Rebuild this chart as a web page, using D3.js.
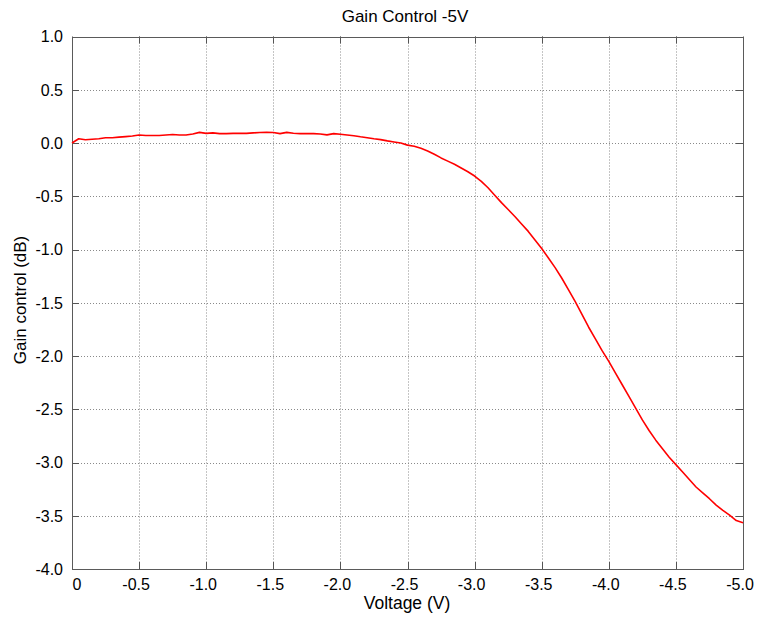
<!DOCTYPE html>
<html>
<head>
<meta charset="utf-8">
<script src="https://cdn.jsdelivr.net/npm/d3@7"></script>
<style>
  html, body { margin: 0; padding: 0; background: #fff; }
  text { font-family: "Liberation Sans", Arial, Helvetica, sans-serif; fill: #000; }
</style>
</head>
<body>
<svg id="chart" width="759" height="621"></svg>
<script>
// Measured sweep: control voltage (V) and resulting gain change (dB)
const voltage = [
  0.00, -0.05, -0.10, -0.15, -0.20, -0.25, -0.30, -0.35, -0.40, -0.45,
  -0.50, -0.55, -0.60, -0.65, -0.70, -0.75, -0.80, -0.85, -0.90, -0.95,
  -1.00, -1.05, -1.10, -1.15, -1.20, -1.25, -1.30, -1.35, -1.40, -1.45,
  -1.50, -1.55, -1.60, -1.65, -1.70, -1.75, -1.80, -1.85, -1.90, -1.95,
  -2.00, -2.05, -2.10, -2.15, -2.20, -2.25, -2.30, -2.35, -2.40, -2.45,
  -2.50, -2.55, -2.60, -2.65, -2.70, -2.75, -2.80, -2.85, -2.90, -2.95,
  -3.00, -3.05, -3.10, -3.15, -3.20, -3.25, -3.30, -3.35, -3.40, -3.45,
  -3.50, -3.55, -3.60, -3.65, -3.70, -3.75, -3.80, -3.85, -3.90, -3.95,
  -4.00, -4.05, -4.10, -4.15, -4.20, -4.25, -4.30, -4.35, -4.40, -4.45,
  -4.50, -4.55, -4.60, -4.65, -4.70, -4.75, -4.80, -4.85, -4.90, -4.95,
  -5.00
];
const gainDb = [
  0.000, 0.040, 0.030, 0.035, 0.040, 0.050, 0.050, 0.055, 0.060, 0.065,
  0.075, 0.070, 0.070, 0.070, 0.075, 0.080, 0.075, 0.075, 0.085, 0.100,
  0.090, 0.095, 0.088, 0.088, 0.090, 0.092, 0.090, 0.095, 0.098, 0.100,
  0.098, 0.088, 0.100, 0.092, 0.088, 0.088, 0.088, 0.085, 0.076, 0.088,
  0.082, 0.075, 0.068, 0.058, 0.050, 0.040, 0.032, 0.020, 0.010, 0.000,
  -0.020, -0.030, -0.050, -0.075, -0.105, -0.140, -0.170, -0.200, -0.235, -0.270,
  -0.310, -0.360, -0.420, -0.490, -0.560, -0.625, -0.690, -0.760, -0.830, -0.910,
  -0.990, -1.080, -1.170, -1.270, -1.380, -1.490, -1.610, -1.730, -1.840, -1.950,
  -2.050, -2.160, -2.270, -2.380, -2.490, -2.600, -2.700, -2.790, -2.870, -2.950,
  -3.020, -3.090, -3.160, -3.230, -3.285, -3.340, -3.400, -3.450, -3.495, -3.545,
  -3.565
];

const xTicks = [0, -0.5, -1.0, -1.5, -2.0, -2.5, -3.0, -3.5, -4.0, -4.5, -5.0];
const xTickLabels = ["0", "-0.5", "-1.0", "-1.5", "-2.0", "-2.5", "-3.0", "-3.5", "-4.0", "-4.5", "-5.0"];
const yTicks = [1.0, 0.5, 0.0, -0.5, -1.0, -1.5, -2.0, -2.5, -3.0, -3.5, -4.0];
const yTickLabels = ["1.0", "0.5", "0.0", "-0.5", "-1.0", "-1.5", "-2.0", "-2.5", "-3.0", "-3.5", "-4.0"];

const titleText = "Gain Control -5V";
const xTitle = "Voltage (V)";
const yTitle = "Gain control (dB)";

const svg = d3.select("#chart");
const plot = { left: 72, right: 743, top: 36.5, bottom: 569 };

const x = d3.scaleLinear().domain([0, -5]).range([plot.left, plot.right]);
const y = d3.scaleLinear().domain([-4, 1]).range([plot.bottom, plot.top]);

// Dotted grid
const grid = svg.append("g");
grid.selectAll("line.gx").data(xTicks.slice(1, -1)).join("line")
  .attr("x1", d => Math.round(x(d)) + 0.5).attr("x2", d => Math.round(x(d)) + 0.5)
  .attr("y1", plot.top).attr("y2", plot.bottom)
  .attr("stroke", "#8a8a8a").attr("stroke-width", 1).attr("stroke-dasharray", "1,2");
grid.selectAll("line.gy").data(yTicks.slice(1, -1)).join("line")
  .attr("y1", d => Math.round(y(d)) + 0.5).attr("y2", d => Math.round(y(d)) + 0.5)
  .attr("x1", plot.left).attr("x2", plot.right)
  .attr("stroke", "#8a8a8a").attr("stroke-width", 1).attr("stroke-dasharray", "1,2");

// Inward tick marks on all four sides
const tickLen = 7;
const ticks = svg.append("g").attr("stroke", "#555").attr("stroke-width", 1);
xTicks.forEach(v => {
  const px = Math.round(x(v)) + 0.5;
  ticks.append("line").attr("x1", px).attr("x2", px).attr("y1", plot.bottom).attr("y2", plot.bottom - tickLen);
  ticks.append("line").attr("x1", px).attr("x2", px).attr("y1", plot.top).attr("y2", plot.top + tickLen);
});
yTicks.forEach(v => {
  const py = Math.round(y(v)) + 0.5;
  ticks.append("line").attr("y1", py).attr("y2", py).attr("x1", plot.left).attr("x2", plot.left + tickLen);
  ticks.append("line").attr("y1", py).attr("y2", py).attr("x1", plot.right).attr("x2", plot.right - tickLen);
});

// Frame
svg.append("rect")
  .attr("x", plot.left + 0.5).attr("y", Math.round(plot.top) + 0.5)
  .attr("width", plot.right - plot.left).attr("height", plot.bottom - Math.round(plot.top))
  .attr("fill", "none").attr("stroke", "#5a5a5a").attr("stroke-width", 1);

// Curve
const line = d3.line()
  .x((d, i) => x(voltage[i]))
  .y(d => y(d));
svg.append("path")
  .datum(gainDb)
  .attr("d", line)
  .attr("fill", "none")
  .attr("stroke", "#ff0000")
  .attr("stroke-width", 1.6)
  .attr("stroke-linejoin", "round");

// Tick labels
svg.append("g").selectAll("text").data(xTicks).join("text")
  .attr("x", d => x(d))
  .attr("dx", (d, i) => xTickLabels[i].startsWith("-") ? -3 : 5)
  .attr("y", 590)
  .attr("text-anchor", "middle")
  .style("font-size", "16px")
  .text((d, i) => xTickLabels[i]);

svg.append("g").selectAll("text").data(yTicks).join("text")
  .attr("x", plot.left - 9)
  .attr("y", d => y(d))
  .attr("dy", "0.36em")
  .attr("text-anchor", "end")
  .style("font-size", "16px")
  .text((d, i) => yTickLabels[i]);

// Titles
svg.append("text")
  .attr("x", 405).attr("y", 22)
  .attr("text-anchor", "middle")
  .style("font-size", "17px")
  .text(titleText);

svg.append("text")
  .attr("x", 407).attr("y", 609)
  .attr("text-anchor", "middle")
  .style("font-size", "17.5px")
  .text(xTitle);

svg.append("text")
  .attr("transform", "translate(26,300) rotate(-90)")
  .attr("text-anchor", "middle")
  .style("font-size", "17px")
  .text(yTitle);
</script>
</body>
</html>
